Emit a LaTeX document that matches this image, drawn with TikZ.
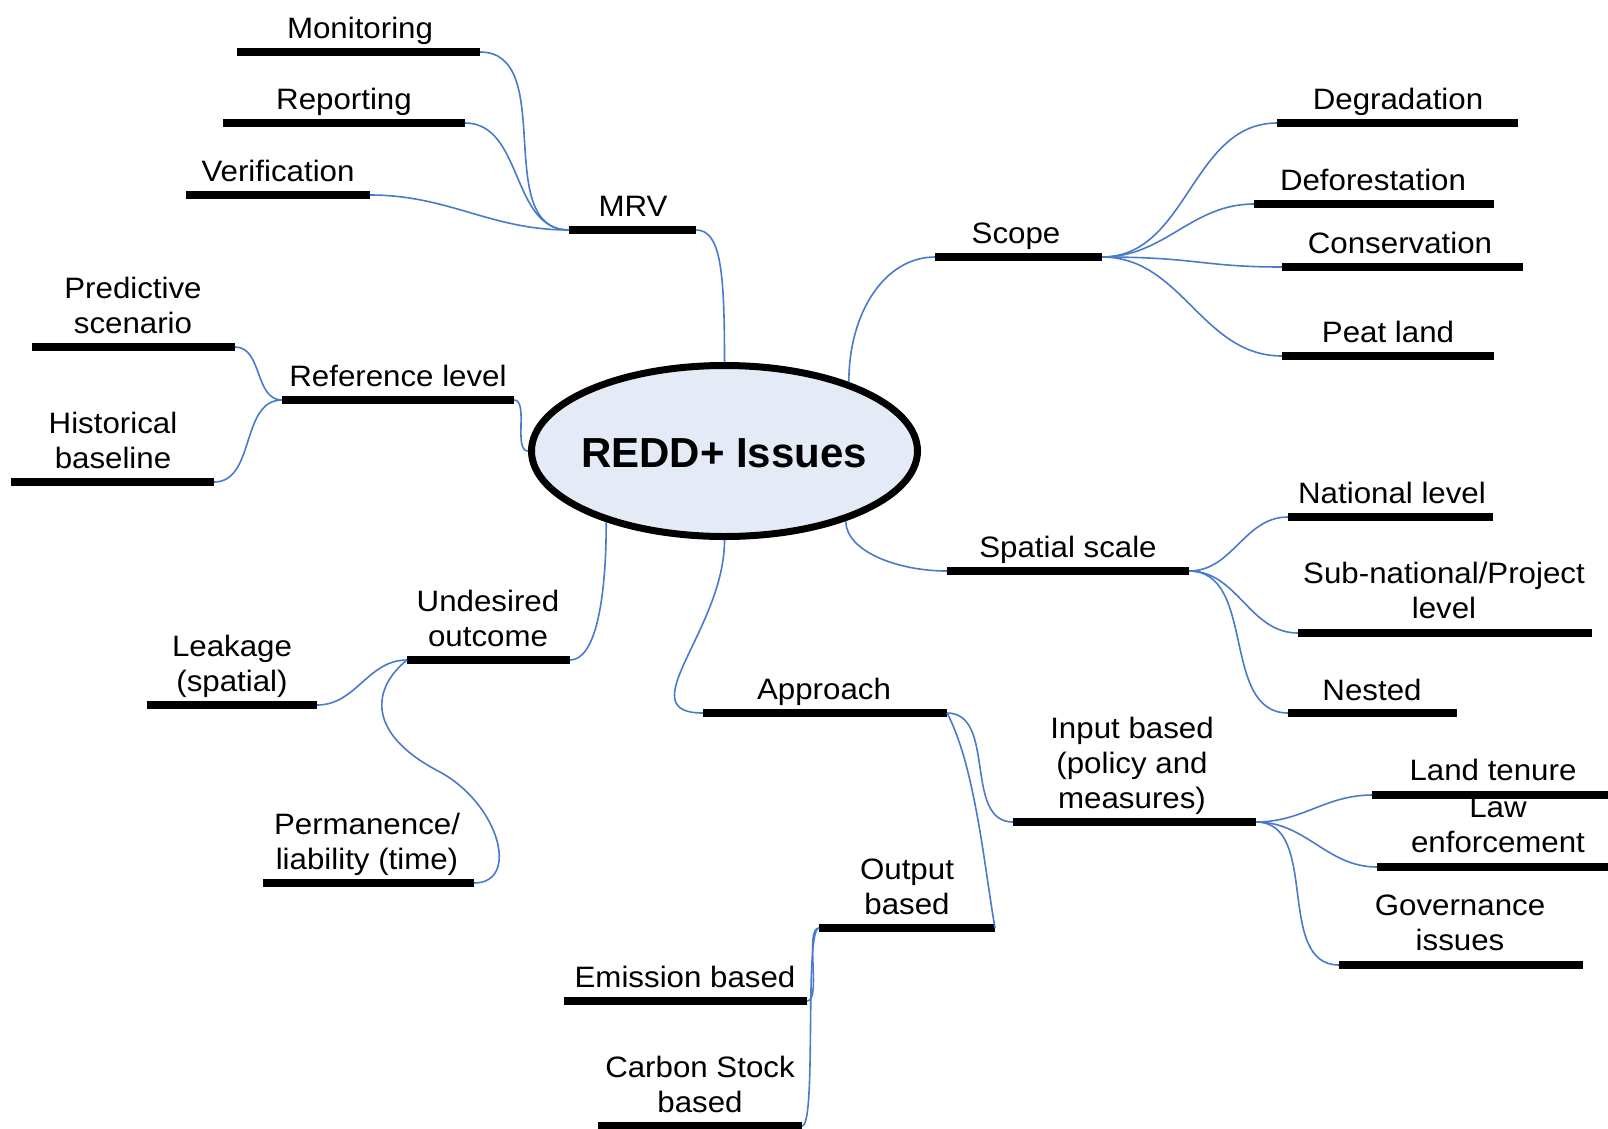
\documentclass[tikz,border=0pt]{standalone}
\usepackage{fontspec}
\setmainfont[FakeStretch=1.06]{Liberation Sans}
\newfontfamily\hubfamily{Liberation Sans}
\usetikzlibrary{shapes.geometric}
\definecolor{connblue}{RGB}{74,122,204}
\definecolor{hubfill}{RGB}{228,235,246}
\newcommand\labsize{\fontsize{29.5}{35}\selectfont}
\newcommand\hubsize{\hubfamily\bfseries\fontsize{42}{48}\selectfont}
\tikzset{
  bar/.style={rectangle, fill=black, draw=none, inner sep=0pt, outer sep=0pt, minimum height=8pt},
  lab/.style={inner sep=0pt, outer sep=0pt, align=center, anchor=south, text depth=0pt, font=\labsize},
  conn/.style={draw=connblue, line width=1.6pt},
  hub/.style={ellipse, draw=black, line width=7pt, fill=hubfill, minimum width=386pt, minimum height=171pt, inner sep=0pt},
  hubtext/.style={font=\hubsize, inner sep=0pt, anchor=base},
}
\begin{document}
\begin{tikzpicture}[x=1pt,y=1pt]
\useasboundingbox (0,0) rectangle (1608,-1128);
\fill[white] (0,0) rectangle (1608,-1128);

% central hub
\node[hub] (hub) at (724.5,-451) {};
\node[hubtext] (hubl) at (724,-467) {REDD+ Issues};

% bars
\node[bar, minimum width=243pt] (monb) at (358.5,-52) {};
\node[bar, minimum width=242pt] (repb) at (344,-123) {};
\node[bar, minimum width=184pt] (verb) at (278,-195) {};
\node[bar, minimum width=127pt] (mrvb) at (632.5,-230) {};
\node[bar, minimum width=203pt] (predb) at (133.5,-347) {};
\node[bar, minimum width=232pt] (refb) at (398,-400) {};
\node[bar, minimum width=203pt] (histb) at (112.5,-482) {};
\node[bar, minimum width=163pt] (undb) at (488.5,-660) {};
\node[bar, minimum width=170pt] (leakb) at (232,-705) {};
\node[bar, minimum width=211pt] (permb) at (368.5,-883) {};
\node[bar, minimum width=241pt] (degb) at (1397.5,-123) {};
\node[bar, minimum width=240pt] (defb) at (1374,-204) {};
\node[bar, minimum width=241pt] (consb) at (1402.5,-267) {};
\node[bar, minimum width=212pt] (peatb) at (1388,-356) {};
\node[bar, minimum width=167pt] (scopeb) at (1018.5,-257) {};
\node[bar, minimum width=242pt] (spatb) at (1068,-571) {};
\node[bar, minimum width=205pt] (natb) at (1390.5,-517) {};
\node[bar, minimum width=294pt] (subb) at (1445,-633) {};
\node[bar, minimum width=169pt] (nestb) at (1372.5,-713) {};
\node[bar, minimum width=244pt] (apprb) at (825,-713) {};
\node[bar, minimum width=243pt] (inpb) at (1134.5,-822) {};
\node[bar, minimum width=240pt] (landb) at (1492,-795) {};
\node[bar, minimum width=235pt] (lawb) at (1494.5,-867) {};
\node[bar, minimum width=244pt] (govb) at (1461,-965) {};
\node[bar, minimum width=176pt] (outb) at (907,-928) {};
\node[bar, minimum width=243pt] (emib) at (685.5,-1001) {};
\node[bar, minimum width=204pt] (carbb) at (700,-1126) {};

% labels
\node[lab] (monl) at (360,-38) {Monitoring};
\node[lab] (repl) at (344,-109) {Reporting};
\node[lab] (verl) at (278,-181) {Verification};
\node[lab] (mrvl) at (633,-216) {MRV};
\node[lab] (predl) at (133,-333) {Predictive\\scenario};
\node[lab] (refl) at (398,-386) {Reference level};
\node[lab] (histl) at (113,-468) {Historical\\baseline};
\node[lab] (undl) at (488,-646) {Undesired\\outcome};
\node[lab] (leakl) at (232,-691) {Leakage\\(spatial)};
\node[lab] (perml) at (367,-869) {Permanence/\\liability (time)};
\node[lab] (degl) at (1398,-109) {Degradation};
\node[lab] (defl) at (1373,-190) {Deforestation};
\node[lab] (consl) at (1400,-253) {Conservation};
\node[lab] (peatl) at (1388,-342) {Peat land};
\node[lab] (scopel) at (1016,-243) {Scope};
\node[lab] (spatl) at (1068,-557) {Spatial scale};
\node[lab] (natl) at (1392,-503) {National level};
\node[lab] (subl) at (1444,-618) {Sub-national/Project\\level};
\node[lab] (nestl) at (1372,-700) {Nested};
\node[lab] (apprl) at (824,-699) {Approach};
\node[lab] (inpl) at (1132,-808) {Input based\\(policy and\\measures)};
\node[lab] (landl) at (1493,-780) {Land tenure};
\node[lab] (lawl) at (1498,-852) {Law\\enforcement};
\node[lab] (govl) at (1460,-950) {Governance\\issues};
\node[lab] (outl) at (907,-914) {Output\\based};
\node[lab] (emil) at (685,-987) {Emission based};
\node[lab] (carbl) at (700,-1112) {Carbon Stock\\based};

% connectors
\draw[conn] (monb.east) to[out=0,in=180] (mrvb.west);
\draw[conn] (repb.east) to[out=0,in=180] (mrvb.west);
\draw[conn] (verb.east) to[out=0,in=180] (mrvb.west);
\draw[conn] (mrvb.east) to[out=0,in=90,out distance=25pt,in distance=90pt] (hub.north);

\draw[conn] (predb.east) to[out=0,in=180] (refb.west);
\draw[conn] (histb.east) to[out=0,in=180] (refb.west);
\draw[conn] (refb.east) to[out=0,in=180,out distance=15pt,in distance=15pt] (hub.west);

\draw[conn] (hub.211) to[out=-90,in=0,out distance=80pt,in distance=25pt] (undb.east);
\draw[conn] (undb.west) to[out=180,in=0] (leakb.east);
\draw[conn] (undb.west) .. controls (370,-690) and (368,-735) .. (440,-772)
   .. controls (500,-805) and (520,-883) .. (permb.east);

\draw[conn] (hub.south) to[out=-90,in=180,out distance=90pt,in distance=75pt] (apprb.west);
\draw[conn] (apprb.east) to[out=0,in=180] (inpb.west);
\draw[conn] (apprb.east) to[out=-62,in=100,out distance=60pt,in distance=60pt] (outb.east);
\draw[conn] (outb.west) to[out=180,in=0,out distance=15pt,in distance=15pt] (emib.east);
\draw[conn] (outb.west) to[out=180,in=0,out distance=15pt,in distance=15pt] (carbb.east);

\draw[conn] (hub.29) to[out=90,in=180,out distance=70pt,in distance=50pt] (scopeb.west);
\draw[conn] (scopeb.east) to[out=0,in=180] (degb.west);
\draw[conn] (scopeb.east) to[out=0,in=180] (defb.west);
\draw[conn] (scopeb.east) to[out=0,in=180,out distance=95pt,in distance=80pt] (consb.west);
\draw[conn] (scopeb.east) to[out=0,in=180] (peatb.west);

\draw[conn] (hub.-30) to[out=-90,in=180,out distance=30pt,in distance=50pt] (spatb.west);
\draw[conn] (spatb.east) to[out=0,in=180] (natb.west);
\draw[conn] (spatb.east) to[out=0,in=180] (subb.west);
\draw[conn] (spatb.east) to[out=0,in=180] (nestb.west);

\draw[conn] (inpb.east) to[out=0,in=180] (landb.west);
\draw[conn] (inpb.east) to[out=0,in=180] (lawb.west);
\draw[conn] (inpb.east) to[out=0,in=180] (govb.west);
\end{tikzpicture}
\end{document}
